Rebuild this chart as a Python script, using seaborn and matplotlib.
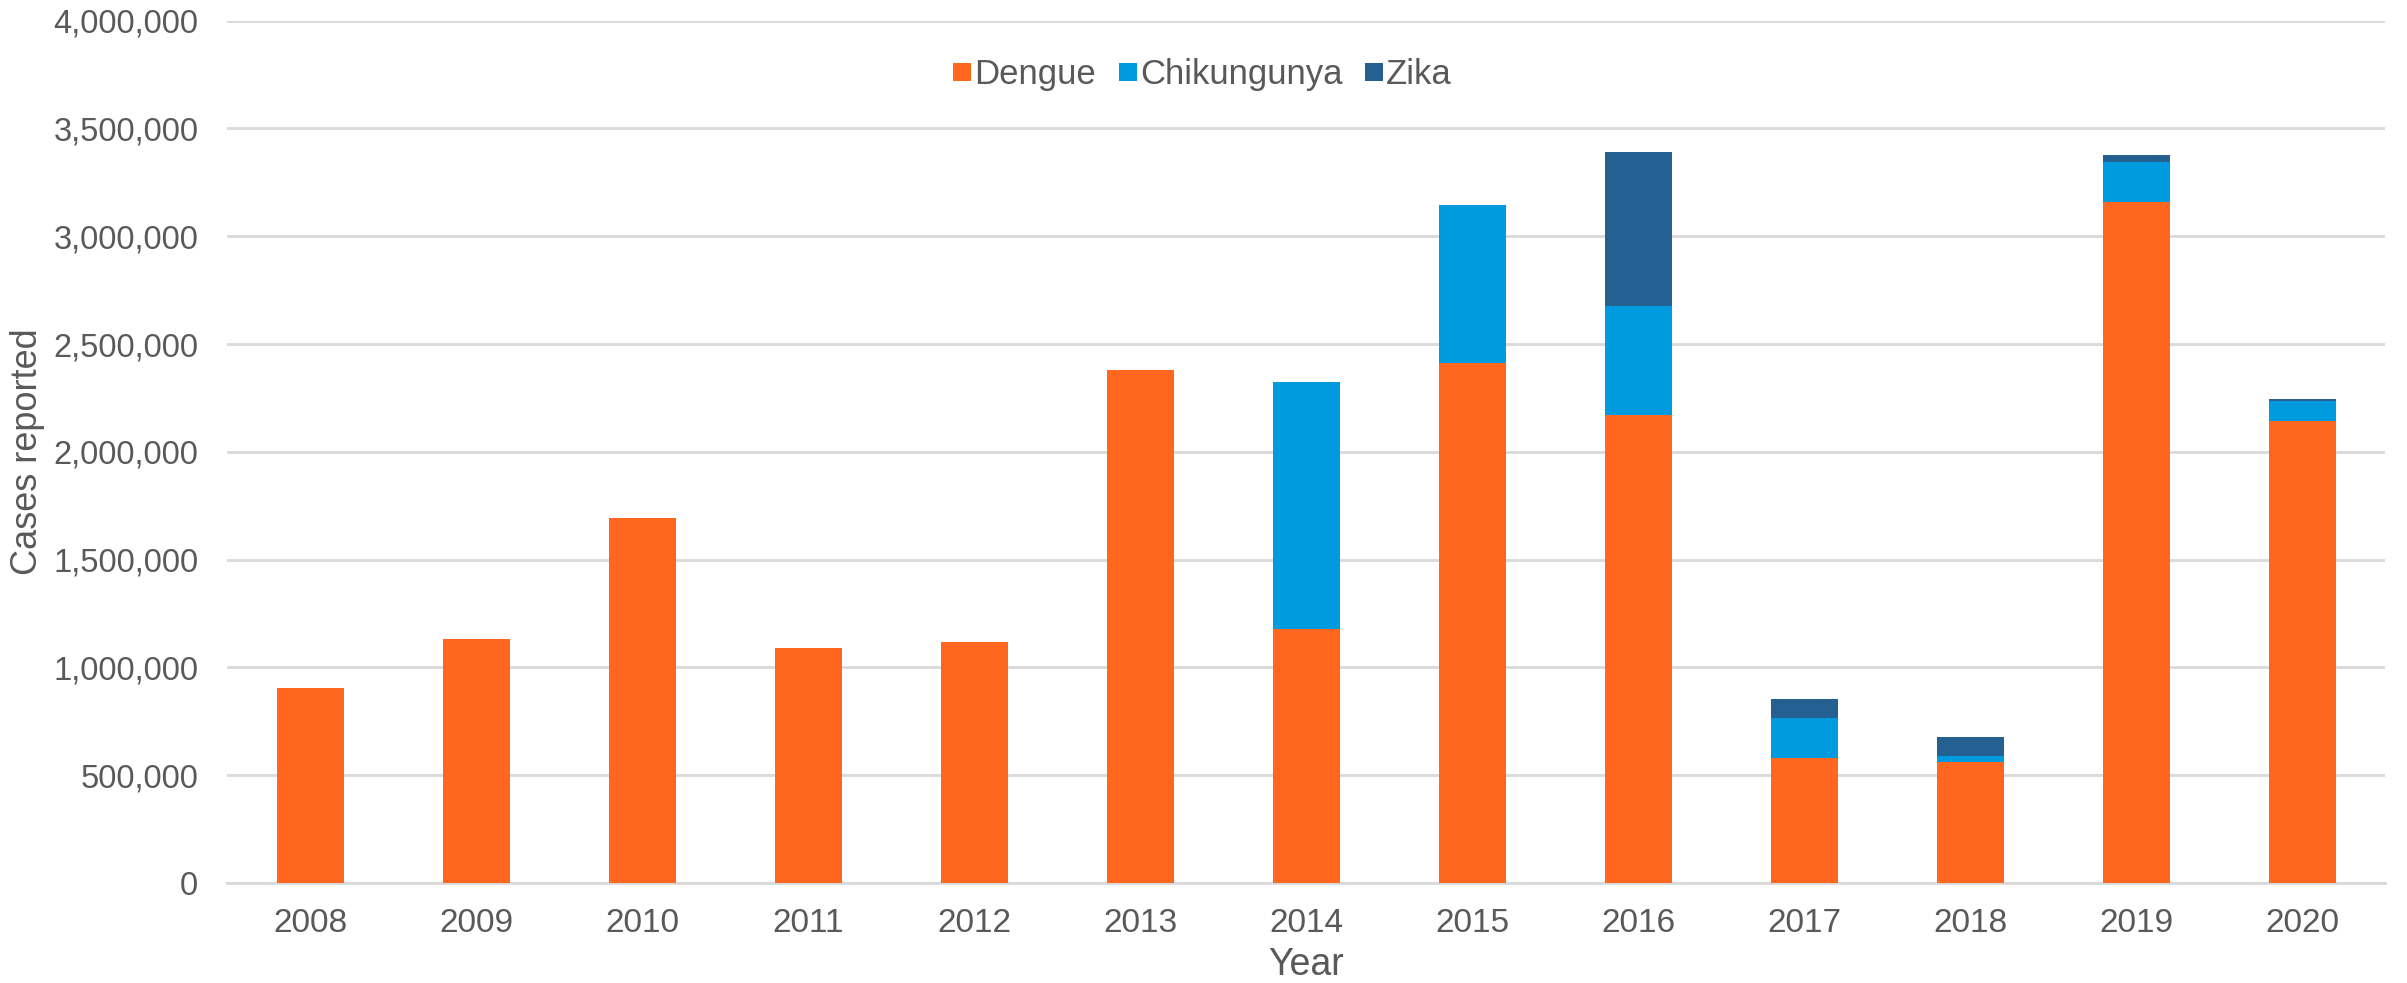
import matplotlib
matplotlib.use("Agg")
import matplotlib.pyplot as plt
import matplotlib.ticker as mticker
from matplotlib import font_manager
from matplotlib.lines import Line2D
import seaborn as sns
import pandas as pd

years = ["2008", "2009", "2010", "2011", "2012", "2013", "2014",
         "2015", "2016", "2017", "2018", "2019", "2020"]
dengue = [905000, 1132000, 1695000, 1090000, 1118000, 2379000, 1179000,
          2413000, 2173000, 579000, 561000, 3161000, 2144000]
chikungunya = [0, 0, 0, 0, 0, 0, 1147000, 731000, 503000, 185000, 26000, 183000, 90000]
zika = [0, 0, 0, 0, 0, 0, 0, 0, 715000, 90000, 92000, 33000, 11000]

series_names = ["Dengue", "Chikungunya", "Zika"]
colors = {"Dengue": "#FF671F", "Chikungunya": "#009BDE", "Zika": "#256092"}

df = pd.DataFrame({"Year": years, "Dengue": dengue,
                   "Chikungunya": chikungunya, "Zika": zika})
df["cum_d"] = df["Dengue"]
df["cum_c"] = df["cum_d"] + df["Chikungunya"]
df["cum_z"] = df["cum_c"] + df["Zika"]

sns.set_theme(style="white")
plt.rcParams["font.family"] = ["Liberation Sans", "DejaVu Sans"]

installed = {f.name for f in font_manager.fontManager.ttflist}
narrow = "Liberation Sans Narrow" if "Liberation Sans Narrow" in installed else "Liberation Sans"
narrow_fam = [narrow, "DejaVu Sans"]

fig = plt.figure(figsize=(24.07, 9.83), dpi=100)
ax = fig.add_axes([0.0945, 0.1017, 0.8965, 0.8773])
fig.patch.set_facecolor("white")
ax.set_facecolor("white")

for col, name in [("cum_z", "Zika"), ("cum_c", "Chikungunya"), ("cum_d", "Dengue")]:
    sns.barplot(data=df, x="Year", y=col, color=colors[name], width=0.4,
                saturation=1, ax=ax, zorder=3, linewidth=0)

ax.set_ylim(0, 4000000)
ax.set_xlim(-0.5, 12.5)
ax.yaxis.set_major_locator(mticker.MultipleLocator(500000))
ax.yaxis.set_major_formatter(mticker.FuncFormatter(lambda v, p: f"{int(v):,}"))
ax.grid(axis="y", color="#D9D9D9", linewidth=2, zorder=0)
ax.grid(axis="x", visible=False)
for s in ["top", "right", "left"]:
    ax.spines[s].set_visible(False)
ax.spines["bottom"].set_color("#D9D9D9")
ax.spines["bottom"].set_linewidth(2)

ax.tick_params(axis="y", length=0, pad=21, labelsize=23.5, labelcolor="#595959")
ax.tick_params(axis="x", length=0, pad=18, labelsize=24, labelcolor="#595959")
for lab in ax.get_xticklabels():
    lab.set_family(narrow_fam)

ax.set_xlabel("Year", fontsize=27, color="#595959", labelpad=6, family=narrow_fam)
ax.set_ylabel("Cases reported", fontsize=26, color="#595959", labelpad=6,
              family=narrow_fam)

handles = [Line2D([0], [0], marker="s", linestyle="none", markersize=13,
                  markerfacecolor=colors[n], markeredgewidth=0, label=n)
           for n in series_names]
leg = ax.legend(handles=handles, loc="center", bbox_to_anchor=(0.4515, 0.937),
                ncol=3, frameon=False, fontsize=25, handletextpad=0.05,
                columnspacing=0.6, handlelength=0.6)
for t in leg.get_texts():
    t.set_color("#595959")

fig.savefig("out.png", dpi=100)
